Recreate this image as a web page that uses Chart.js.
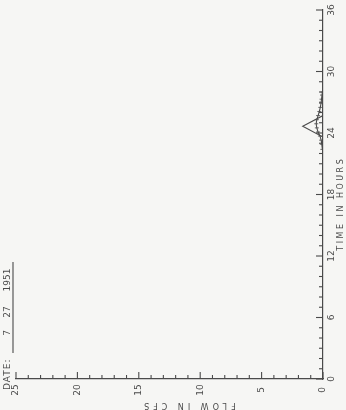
<!DOCTYPE html>
<html>
<head>
<meta charset="utf-8">
<script src="https://cdn.jsdelivr.net/npm/chart.js@4"></script>
<style>
  html, body { margin: 0; padding: 0; background: #f6f6f4; }
  #chart { display: block; }
</style>
</head>
<body>
<canvas id="chart" width="346" height="410"></canvas>
<script>
// hydrograph, 7/27/1951 -- sheet drawn turned on its side:
// time runs up the right edge, flow runs right-to-left along the bottom
const timeTicks = [0, 6, 12, 18, 24, 30, 36];
const flowTicks = [0, 5, 10, 15, 20, 25];

// triangular hydrograph
const triTime = [23.6, 24.65, 25.7];
const triFlow = [0, 1.65, 0];

// measured flow
const obsTime = [22.4, 22.9, 23.3, 23.7, 24.1, 24.5, 24.9, 25.3, 25.7, 26.1, 26.5, 26.9, 27.3, 27.7, 28.0];
const obsFlow = [0.05, 0.1, 0.15, 0.25, 0.4, 0.5, 0.55, 0.5, 0.4, 0.3, 0.22, 0.16, 0.12, 0.08, 0.05];

const dateParts = ['7', '27', '1951'];

const ink = '#4a4a4a';

function toPoints(ts, fs) {
  return ts.map((t, i) => ({ x: fs[i], y: t }));
}

// ticks point into the plot, labels are turned 90 degrees like the rest of the sheet
const sheetPlugin = {
  id: 'sheet',
  afterDraw(chart) {
    const ctx = chart.ctx;
    const xs = chart.scales.x;
    const ys = chart.scales.y;
    const area = chart.chartArea;
    ctx.save();
    ctx.strokeStyle = ink;
    ctx.fillStyle = ink;
    ctx.lineWidth = 1.1;

    // time axis ticks, one per hour
    for (let h = 0; h <= 36; h++) {
      const py = ys.getPixelForValue(h);
      const len = h % 6 === 0 ? 7 : 4;
      ctx.beginPath();
      ctx.moveTo(area.right, py);
      ctx.lineTo(area.right - len, py);
      ctx.stroke();
    }
    // flow axis ticks, one per cfs
    for (let f = 0; f <= 25; f++) {
      const px = xs.getPixelForValue(f);
      const len = f % 5 === 0 ? 7 : 4;
      ctx.beginPath();
      ctx.moveTo(px, area.bottom);
      ctx.lineTo(px, area.bottom - len);
      ctx.stroke();
    }

    ctx.font = '9px "DejaVu Sans"';
    ctx.textAlign = 'center';
    ctx.textBaseline = 'middle';

    timeTicks.forEach(h => {
      ctx.save();
      ctx.translate(area.right + 9, ys.getPixelForValue(h));
      ctx.rotate(-Math.PI / 2);
      ctx.fillText(String(h), 0, 0);
      ctx.restore();
    });
    flowTicks.forEach(f => {
      ctx.save();
      ctx.translate(xs.getPixelForValue(f), area.bottom + 11);
      ctx.rotate(-Math.PI / 2);
      ctx.fillText(String(f), 0, 0);
      ctx.restore();
    });

    // axis titles
    ctx.font = '8px "DejaVu Sans"';
    ctx.save();
    ctx.translate(area.right + 18, ys.getPixelForValue(17.1));
    ctx.rotate(-Math.PI / 2);
    ctx.letterSpacing = '2.5px';
    ctx.fillText('TIME IN HOURS', 0, 0);
    ctx.restore();

    ctx.save();
    ctx.translate(xs.getPixelForValue(11), area.bottom + 26);
    ctx.rotate(Math.PI);
    ctx.letterSpacing = '4px';
    ctx.fillText('FLOW IN CFS', 0, 0);
    ctx.restore();

    // date block on the left edge
    ctx.font = '9px "DejaVu Sans"';
    ctx.save();
    ctx.translate(8, 390);
    ctx.rotate(-Math.PI / 2);
    ctx.textAlign = 'left';
    ctx.letterSpacing = '1px';
    ctx.fillText('DATE:', 0, 0);
    ctx.letterSpacing = '0px';
    ctx.textAlign = 'center';
    ctx.fillText(dateParts[0], 57, 0);
    ctx.fillText(dateParts[1], 78, 0);
    ctx.fillText(dateParts[2], 110, 0);
    ctx.beginPath();
    ctx.moveTo(37, 5);
    ctx.lineTo(128, 5);
    ctx.stroke();
    ctx.restore();

    ctx.restore();
  }
};

new Chart(document.getElementById('chart'), {
  type: 'scatter',
  data: {
    datasets: [
      {
        data: toPoints(triTime, triFlow),
        showLine: true,
        borderColor: ink,
        borderWidth: 1.1,
        pointRadius: 0,
        tension: 0
      },
      {
        data: toPoints(obsTime, obsFlow),
        showLine: true,
        borderColor: ink,
        borderWidth: 1.1,
        pointStyle: 'line',
        pointRadius: 2,
        pointBorderWidth: 0.8,
        pointBorderColor: ink,
        tension: 0.3
      }
    ]
  },
  options: {
    responsive: false,
    animation: false,
    layout: { padding: { left: 16, right: 23, top: 10, bottom: 31 } },
    plugins: { legend: { display: false }, tooltip: { enabled: false } },
    scales: {
      x: {
        type: 'linear',
        reverse: true,
        min: 0,
        max: 25,
        ticks: { display: false },
        grid: { display: false, drawTicks: false },
        border: { display: true, color: ink, width: 1.2 }
      },
      y: {
        type: 'linear',
        position: 'right',
        min: 0,
        max: 36,
        ticks: { display: false },
        grid: { display: false, drawTicks: false },
        border: { display: true, color: ink, width: 1.2 }
      }
    }
  },
  plugins: [sheetPlugin]
});
</script>
</body>
</html>
